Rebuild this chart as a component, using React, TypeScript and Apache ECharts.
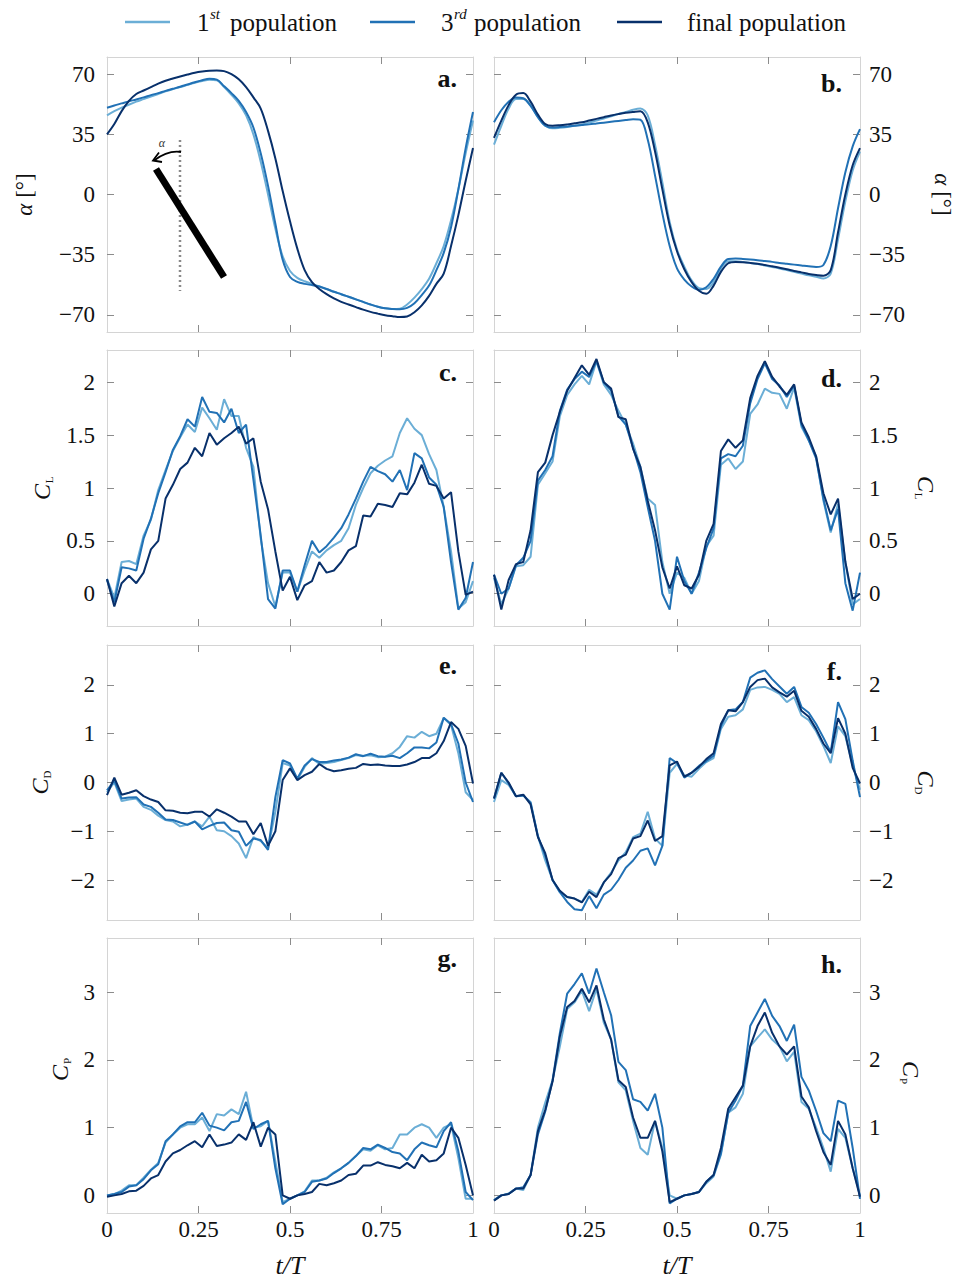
import React, { useEffect, useRef } from 'react';
import * as echarts from 'echarts';

// ---------- data ----------
const T = [0,0.02,0.04,0.06,0.08,0.1,0.12,0.14,0.16,0.18,0.2,0.22,0.24,0.26,0.28,0.3,0.32,0.34,0.36,0.38,0.4,0.42,0.44,0.46,0.48,0.5,0.52,0.54,0.56,0.58,0.6,0.62,0.64,0.66,0.68,0.7,0.72,0.74,0.76,0.78,0.8,0.82,0.84,0.86,0.88,0.9,0.92,0.94,0.96,0.98,1];

const seriesNames = ['1st population', '3rd population', 'final population'];

// panel a: alpha (left)
const aFirst = [46,48.5,50.5,52.3,54,55.5,57,58.5,60,61.3,62.5,63.8,65,66,66.8,66.5,62.5,58,53,46,35,19,0,-20,-36,-44.5,-48.5,-50.5,-52,-53.5,-55,-56.6,-58,-59.5,-61,-62.5,-64,-65.3,-66.2,-66.6,-66.4,-64,-60,-55,-49,-40,-30,-15,3,24,43];
const aThird = [50.5,51.8,53,54.2,55.3,56.5,57.8,59,60.3,61.5,62.7,64,65.3,66.5,67.3,66.8,63,59,54.5,48,39,24,5,-17,-38,-48,-50.8,-52,-52.7,-53.5,-55,-56.6,-58,-59.5,-61,-62.5,-64,-65.3,-66.2,-66.6,-66.8,-66,-63.3,-58.5,-53,-44,-34,-19,3,27,48];
const aFinal = [35,41,48.5,54.5,58.5,60.5,62.5,64.5,66.2,67.5,68.7,69.8,70.8,71.5,72,72.2,71.8,70,67,62.5,56.5,50,37,21,2,-15.6,-31.5,-44,-51,-55,-58,-60.5,-62.5,-64,-65.5,-67,-68.3,-69.3,-70.2,-70.8,-71.3,-71,-68.5,-64.5,-59,-52,-46,-30,-12,8,27];

// panel b: alpha (right)
const bFirst = [29,40,50,55.5,55.5,52,45,40,38.5,38.8,39.3,40,40.8,41.8,43,44.2,45.5,46.8,48,49.3,50,46,29,7,-16,-32,-42,-50,-54.5,-55,-51,-43,-38.8,-38.8,-39.2,-39.8,-40.5,-41.3,-42.2,-43,-44,-45,-46,-47,-47.8,-48.8,-46,-26,-4,14,25];
const bThird = [42,49,54,56.5,56,51.5,45,40,39,39.3,39.6,40,40.4,40.8,41.3,41.8,42.3,42.8,43.3,43.8,43.5,32,11,-11,-30,-43,-49.5,-53.5,-55.5,-54,-49,-42,-37.5,-37.3,-37.5,-37.8,-38.2,-38.7,-39.2,-39.8,-40.3,-40.8,-41.3,-41.8,-42.2,-41,-30,-8,13,28,38];
const bFinal = [33,43,52,58,59,54,46.5,41,40,40.3,40.8,41.4,42,43,44,45,46,46.8,47.5,48,48.4,42,25,3,-18,-33,-43.5,-51,-56,-57.8,-53,-45,-40,-39.2,-39.4,-39.8,-40.3,-41,-41.8,-42.6,-43.5,-44.5,-45.3,-46.2,-46.8,-47.2,-44,-22,0,17,27];

// panel c: CL (left)
const cFirst = [0.14,-0.04,0.3,0.31,0.28,0.55,0.7,0.98,1.17,1.35,1.48,1.6,1.53,1.76,1.66,1.55,1.84,1.68,1.68,1.38,1.2,0.52,0.1,-0.12,0.2,0.2,0.02,0.22,0.4,0.34,0.41,0.46,0.5,0.62,0.84,1.0,1.14,1.21,1.26,1.3,1.52,1.66,1.56,1.5,1.32,1.17,0.82,0.4,-0.14,-0.08,0.12];
const cThird = [0.13,-0.08,0.25,0.24,0.22,0.52,0.71,0.95,1.15,1.36,1.49,1.65,1.58,1.86,1.72,1.71,1.62,1.75,1.52,1.6,1.08,0.55,-0.05,-0.14,0.22,0.22,0.02,0.27,0.5,0.39,0.45,0.53,0.62,0.75,0.9,1.06,1.2,1.16,1.13,1.06,1.17,0.98,1.33,1.28,1.1,1.03,0.82,0.3,-0.15,-0.04,0.3];
const cFinal = [0.14,-0.12,0.1,0.17,0.1,0.2,0.42,0.5,0.9,1.03,1.18,1.24,1.38,1.3,1.52,1.41,1.47,1.52,1.58,1.42,1.47,1.06,0.8,0.4,0.03,0.16,-0.06,0.08,0.12,0.3,0.2,0.22,0.3,0.41,0.45,0.74,0.73,0.85,0.84,0.82,0.95,0.94,1.05,1.22,1.04,1.02,0.9,0.96,0.4,-0.01,0.02];

// panel d: CL (right)
const dFirst = [0.15,-0.1,0.05,0.26,0.27,0.35,1.03,1.14,1.25,1.68,1.88,1.98,2.06,1.98,2.2,1.98,1.88,1.73,1.6,1.42,1.2,0.9,0.84,0.3,0.0,0.2,0.15,0.0,0.12,0.45,0.55,1.22,1.28,1.18,1.25,1.7,1.79,1.94,1.9,1.89,1.75,1.95,1.58,1.45,1.3,0.88,0.58,0.85,0.3,-0.1,-0.05];
const dThird = [0.18,0.0,0.05,0.27,0.34,0.5,1.07,1.17,1.3,1.73,1.93,2.03,2.1,2.05,2.2,2.0,1.92,1.68,1.6,1.38,1.15,0.82,0.5,0.0,-0.15,0.35,0.12,0.0,0.2,0.43,0.62,1.28,1.32,1.3,1.4,1.8,2.03,2.18,2.03,1.97,1.86,1.97,1.6,1.45,1.28,0.9,0.6,0.8,0.1,-0.16,0.2];
const dFinal = [0.18,-0.15,0.13,0.28,0.3,0.6,1.15,1.24,1.5,1.72,1.92,2.04,2.16,2.07,2.22,2.0,1.94,1.67,1.65,1.37,1.2,0.88,0.6,0.25,0.05,0.26,0.08,0.05,0.18,0.5,0.66,1.35,1.46,1.38,1.45,1.85,2.06,2.2,2.05,1.96,1.88,1.98,1.62,1.48,1.3,0.95,0.75,0.9,0.3,-0.05,0.0];

// panel e: CD (left)
const eFirst = [-0.2,0.0,-0.38,-0.35,-0.33,-0.5,-0.56,-0.68,-0.77,-0.8,-0.9,-0.86,-0.8,-0.9,-0.7,-0.98,-1.0,-1.1,-1.25,-1.55,-1.12,-1.2,-1.35,-0.6,0.4,0.35,0.05,0.32,0.5,0.38,0.4,0.42,0.46,0.5,0.56,0.55,0.56,0.52,0.53,0.6,0.73,0.95,0.92,1.04,0.95,1.0,1.32,1.18,0.6,-0.2,-0.36];
const eThird = [-0.16,0.04,-0.33,-0.31,-0.3,-0.45,-0.5,-0.62,-0.76,-0.77,-0.82,-0.87,-0.8,-0.96,-0.89,-0.83,-0.82,-0.98,-1.01,-1.3,-1.15,-1.18,-1.38,-0.3,0.46,0.39,0.08,0.35,0.48,0.42,0.42,0.45,0.47,0.51,0.58,0.54,0.59,0.54,0.53,0.55,0.5,0.6,0.72,0.72,0.7,0.82,1.33,1.2,0.8,0.0,-0.4];
const eFinal = [-0.26,0.1,-0.25,-0.21,-0.16,-0.28,-0.35,-0.4,-0.57,-0.58,-0.62,-0.63,-0.6,-0.6,-0.7,-0.55,-0.62,-0.7,-0.8,-0.8,-1.06,-0.83,-1.3,-1.0,0.05,0.29,0.05,0.15,0.22,0.38,0.28,0.23,0.25,0.28,0.3,0.38,0.36,0.37,0.35,0.34,0.34,0.37,0.42,0.5,0.5,0.6,0.85,1.24,1.1,0.75,-0.02];

// panel f: CD (right)
const fFirst = [-0.4,0.05,-0.05,-0.28,-0.27,-0.4,-1.1,-1.6,-2.0,-2.25,-2.35,-2.38,-2.45,-2.2,-2.3,-2.05,-1.85,-1.6,-1.43,-1.12,-1.05,-0.6,-1.15,-1.3,0.2,0.38,0.15,0.12,0.28,0.42,0.5,1.1,1.35,1.38,1.5,1.9,1.95,1.96,1.9,1.82,1.65,1.75,1.38,1.28,1.05,0.75,0.4,1.15,0.95,0.35,-0.15];
const fThird = [-0.33,0.2,-0.02,-0.28,-0.26,-0.42,-1.1,-1.5,-2.0,-2.25,-2.45,-2.6,-2.62,-2.33,-2.58,-2.3,-2.2,-2.0,-1.75,-1.6,-1.4,-1.35,-1.7,-1.3,0.5,0.4,0.1,0.2,0.34,0.44,0.55,1.15,1.48,1.5,1.65,2.15,2.25,2.3,2.12,1.97,1.82,1.96,1.55,1.43,1.2,0.92,0.62,1.65,1.3,0.45,-0.3];
const fFinal = [-0.33,0.2,0.0,-0.28,-0.25,-0.45,-1.12,-1.45,-2.0,-2.22,-2.35,-2.38,-2.46,-2.24,-2.35,-2.05,-1.88,-1.55,-1.48,-1.15,-1.1,-0.78,-1.2,-1.1,0.35,0.43,0.12,0.2,0.32,0.48,0.6,1.2,1.48,1.46,1.65,1.96,2.1,2.13,1.95,1.85,1.76,1.88,1.47,1.35,1.1,0.8,0.6,1.32,1.0,0.3,-0.02];

// panel g: CP (left)
const gFirst = [0.0,0.02,0.07,0.15,0.15,0.26,0.38,0.48,0.78,0.9,1.0,1.05,1.05,1.15,0.95,1.2,1.18,1.27,1.2,1.53,1.0,1.02,1.1,0.5,-0.1,-0.05,0.0,0.06,0.22,0.22,0.26,0.34,0.4,0.48,0.58,0.68,0.66,0.74,0.68,0.7,0.9,0.9,1.0,1.05,1.0,0.85,1.0,1.05,0.55,-0.05,-0.05];
const gThird = [0.0,0.02,0.05,0.13,0.15,0.24,0.37,0.46,0.8,0.9,1.02,1.08,1.08,1.22,1.03,1.0,0.96,1.08,1.1,1.38,0.98,1.05,1.1,0.4,-0.13,-0.05,0.0,0.05,0.2,0.22,0.25,0.33,0.4,0.48,0.58,0.7,0.68,0.75,0.7,0.64,0.62,0.52,0.68,0.78,0.74,0.71,0.95,1.08,0.65,0.05,-0.07];
const gFinal = [-0.02,0.0,0.02,0.06,0.07,0.14,0.25,0.3,0.5,0.62,0.67,0.74,0.8,0.71,0.9,0.73,0.75,0.78,0.9,0.82,1.08,0.72,1.0,0.9,0.0,-0.05,0.0,0.02,0.05,0.17,0.15,0.18,0.22,0.3,0.32,0.44,0.44,0.49,0.45,0.43,0.4,0.48,0.4,0.6,0.5,0.52,0.62,1.0,0.85,0.45,0.0];

// panel h: CP (right)
const hFirst = [-0.07,0.0,0.03,0.1,0.08,0.3,1.0,1.37,1.7,2.2,2.75,2.85,3.02,2.72,3.05,2.55,2.3,1.67,1.55,1.1,0.7,0.6,1.1,0.7,0.0,-0.05,0.0,0.02,0.05,0.18,0.28,0.6,1.22,1.3,1.5,2.2,2.33,2.45,2.3,2.2,1.98,2.12,1.38,1.28,1.0,0.7,0.35,0.98,0.85,0.4,0.0];
const hThird = [-0.07,0.0,0.02,0.1,0.12,0.3,0.9,1.24,1.7,2.4,2.98,3.12,3.28,2.98,3.35,3.0,2.66,1.97,1.85,1.42,1.38,1.25,1.5,1.0,-0.12,-0.05,0.0,0.02,0.05,0.2,0.3,0.62,1.22,1.4,1.62,2.5,2.7,2.9,2.65,2.5,2.28,2.52,1.75,1.55,1.25,0.92,0.8,1.4,1.35,0.7,-0.05];
const hFinal = [-0.08,0.0,0.02,0.1,0.1,0.3,0.95,1.26,1.68,2.35,2.78,2.87,3.05,2.85,3.1,2.6,2.3,1.7,1.6,1.15,0.85,0.85,1.1,0.65,-0.1,-0.05,0.0,0.02,0.05,0.2,0.3,0.7,1.28,1.45,1.62,2.2,2.5,2.7,2.4,2.2,2.08,2.2,1.46,1.3,0.95,0.64,0.45,1.1,0.9,0.4,-0.02];

// tick values
const xTickLabels = [0, 0.25, 0.5, 0.75, 1];
const xTickMarks = [0.25, 0.5, 0.75];
const alphaTicks = [-70, -35, 0, 35, 70];
const clTicks = [0, 0.5, 1, 1.5, 2];
const cdTicks = [-2, -1, 0, 1, 2];
const cpTicks = [0, 1, 2, 3];

// ---------- layout / style ----------
const FONT = 'Liberation Serif';
const COLORS = ['#6baed6', '#2171b5', '#08306b'];
const FRAME = '#d4d4d4';
const TICK = '#8c8c8c';
const COL_X = [107, 494];
const PANEL_W = 366;
const ROWS = [
  { top: 57, h: 275 },
  { top: 350, h: 276 },
  { top: 645, h: 275 },
  { top: 938, h: 275 },
];

type Panel = {
  label: string; col: number; row: number; data: number[][];
  min: number; max: number; ticks: number[]; smooth: boolean;
  labelBase: number;
};

const panels: Panel[] = [
  { label: 'a.', col: 0, row: 0, data: [aFirst, aThird, aFinal], min: -80, max: 80, ticks: alphaTicks, smooth: true, labelBase: 87 },
  { label: 'b.', col: 1, row: 0, data: [bFirst, bThird, bFinal], min: -80, max: 80, ticks: alphaTicks, smooth: true, labelBase: 92 },
  { label: 'c.', col: 0, row: 1, data: [cFirst, cThird, cFinal], min: -0.305, max: 2.305, ticks: clTicks, smooth: false, labelBase: 381 },
  { label: 'd.', col: 1, row: 1, data: [dFirst, dThird, dFinal], min: -0.305, max: 2.305, ticks: clTicks, smooth: false, labelBase: 387 },
  { label: 'e.', col: 0, row: 2, data: [eFirst, eThird, eFinal], min: -2.82, max: 2.82, ticks: cdTicks, smooth: false, labelBase: 674 },
  { label: 'f.', col: 1, row: 2, data: [fFirst, fThird, fFinal], min: -2.82, max: 2.82, ticks: cdTicks, smooth: false, labelBase: 680 },
  { label: 'g.', col: 0, row: 3, data: [gFirst, gThird, gFinal], min: -0.26, max: 3.8, ticks: cpTicks, smooth: false, labelBase: 967 },
  { label: 'h.', col: 1, row: 3, data: [hFirst, hThird, hFinal], min: -0.26, max: 3.8, ticks: cpTicks, smooth: false, labelBase: 973 },
];

const fmtNum = (v: number) => (v < 0 ? '\u2212' + String(Math.abs(v)) : String(v));

function yTitle(x: number, y: number, rot: number, kind: string) {
  if (kind === 'alpha') {
    return {
      type: 'text', x, y, rotation: rot,
      style: {
        text: '{i|α} [°]', textAlign: 'center', textVerticalAlign: 'middle',
        fontFamily: FONT, fontSize: 23, fill: '#111',
        rich: { i: { fontStyle: 'italic', fontFamily: FONT, fontSize: 23 } },
      },
    };
  }
  return {
    type: 'group', x, y, rotation: rot,
    children: [
      { type: 'text', x: -4, y: 0, style: { text: 'C', fontStyle: 'italic', fontFamily: FONT, fontSize: 24, fill: '#111', textAlign: 'center', textVerticalAlign: 'middle' } },
      { type: 'text', x: 8, y: 7, style: { text: kind, fontFamily: FONT, fontSize: 11, fill: '#111', textAlign: 'center', textVerticalAlign: 'middle' } },
    ],
  };
}

function buildOption() {
  const grid: any[] = [];
  const xAxis: any[] = [];
  const yAxis: any[] = [];
  const series: any[] = [];
  const graphic: any[] = [];

  const tickBase = { show: true, inside: true, length: 7, lineStyle: { color: TICK, width: 1 } };
  const lineBase = { show: true, onZero: false, lineStyle: { color: FRAME, width: 1 } };
  const labelBase = { fontFamily: FONT, fontSize: 23, color: '#111' };

  panels.forEach((p, i) => {
    const r = ROWS[p.row];
    grid.push({ left: COL_X[p.col], top: r.top, width: PANEL_W, height: r.h, containLabel: false });
    const bottomRow = p.row === 3;
    xAxis.push({
      type: 'value', gridIndex: i, min: 0, max: 1, position: 'bottom',
      axisLine: lineBase, splitLine: { show: false },
      axisTick: { ...tickBase, customValues: xTickMarks },
      axisLabel: { ...labelBase, show: bottomRow, margin: 5, customValues: xTickLabels, formatter: (v: number) => String(v) },
    });
    xAxis.push({
      type: 'value', gridIndex: i, min: 0, max: 1, position: 'top',
      axisLine: lineBase, splitLine: { show: false },
      axisTick: { ...tickBase, customValues: xTickMarks },
      axisLabel: { show: false },
    });
    const leftLabels = p.col === 0;
    yAxis.push({
      type: 'value', gridIndex: i, min: p.min, max: p.max, position: 'left',
      axisLine: lineBase, splitLine: { show: false },
      axisTick: { ...tickBase, customValues: p.ticks },
      axisLabel: { ...labelBase, show: leftLabels, margin: 12, customValues: p.ticks, formatter: fmtNum },
    });
    yAxis.push({
      type: 'value', gridIndex: i, min: p.min, max: p.max, position: 'right',
      axisLine: lineBase, splitLine: { show: false },
      axisTick: { ...tickBase, customValues: p.ticks },
      axisLabel: { ...labelBase, show: !leftLabels, margin: 9, customValues: p.ticks, formatter: fmtNum },
    });
    p.data.forEach((vals, s) => {
      series.push({
        type: 'line', name: seriesNames[s],
        xAxisIndex: 2 * i, yAxisIndex: 2 * i + (leftLabels ? 0 : 1),
        data: T.map((t, k) => [t, vals[k]]),
        symbol: 'none', showSymbol: false,
        smooth: p.smooth ? 0.35 : false,
        lineStyle: { width: 2, color: COLORS[s] },
        itemStyle: { color: COLORS[s] },
        z: 2 + s,
      });
    });
    // panel label
    const rightEdge = COL_X[p.col] + PANEL_W - (p.col === 0 ? 16 : 18);
    graphic.push({
      type: 'text', x: rightEdge, y: p.labelBase - 9,
      style: { text: p.label, fontFamily: FONT, fontWeight: 'bold', fontSize: 26, fill: '#111', textAlign: 'right', textVerticalAlign: 'middle' },
      z: 20,
    });
  });

  // y-axis titles
  const midY = (row: number) => ROWS[row].top + ROWS[row].h / 2;
  graphic.push(yTitle(24, midY(0), Math.PI / 2, 'alpha'));
  graphic.push(yTitle(42, midY(1), Math.PI / 2, 'L'));
  graphic.push(yTitle(40, midY(2), Math.PI / 2, 'D'));
  graphic.push(yTitle(60, 1069, Math.PI / 2, 'P'));
  graphic.push(yTitle(942, midY(0), -Math.PI / 2, 'alpha'));
  graphic.push(yTitle(926, midY(1), -Math.PI / 2, 'L'));
  graphic.push(yTitle(926, midY(2), -Math.PI / 2, 'D'));
  graphic.push(yTitle(911, 1073, -Math.PI / 2, 'P'));

  // x-axis titles
  [0, 1].forEach((c) => {
    graphic.push({
      type: 'text', x: COL_X[c] + PANEL_W / 2, y: 1265,
      style: { text: 't/T', fontFamily: FONT, fontStyle: 'italic', fontSize: 26, fill: '#111', textAlign: 'center', textVerticalAlign: 'middle' },
    });
  });

  // legend (drawn)
  const legendItems = [
    { x1: 125, num: '1', sup: 'st', tx: 197 },
    { x1: 370, num: '3', sup: 'rd', tx: 441 },
  ];
  legendItems.forEach((it, s) => {
    graphic.push({ type: 'line', shape: { x1: it.x1, y1: 22, x2: it.x1 + 45, y2: 22 }, style: { stroke: COLORS[s], lineWidth: 2.5 } });
    graphic.push({ type: 'text', x: it.tx, y: 22, style: { text: it.num, fontFamily: FONT, fontSize: 25, fill: '#111', textAlign: 'left', textVerticalAlign: 'middle' } });
    graphic.push({ type: 'text', x: it.tx + 13, y: 14, style: { text: it.sup, fontFamily: FONT, fontStyle: 'italic', fontSize: 15, fill: '#111', textAlign: 'left', textVerticalAlign: 'middle' } });
    graphic.push({ type: 'text', x: it.tx + 33, y: 22, style: { text: 'population', fontFamily: FONT, fontSize: 25, fill: '#111', textAlign: 'left', textVerticalAlign: 'middle' } });
  });
  graphic.push({ type: 'line', shape: { x1: 617, y1: 22, x2: 662, y2: 22 }, style: { stroke: COLORS[2], lineWidth: 2.5 } });
  graphic.push({ type: 'text', x: 687, y: 22, style: { text: 'final population', fontFamily: FONT, fontSize: 25, fill: '#111', textAlign: 'left', textVerticalAlign: 'middle' } });

  // inset sketch in panel a
  graphic.push({ type: 'line', shape: { x1: 180, y1: 140, x2: 180, y2: 291 }, style: { stroke: '#8a8a8a', lineWidth: 2.5, lineDash: [2, 3] }, z: 10 });
  graphic.push({ type: 'line', shape: { x1: 156, y1: 169, x2: 224, y2: 277 }, style: { stroke: '#000', lineWidth: 7 }, z: 11 });
  graphic.push({ type: 'bezierCurve', shape: { x1: 181, y1: 152, x2: 154, y2: 160.5, cpx1: 168, cpy1: 150 }, style: { stroke: '#000', lineWidth: 1.8, fill: null }, z: 11 });
  graphic.push({ type: 'polyline', shape: { points: [[159, 152.5], [153, 160.5], [162, 162]] }, style: { stroke: '#000', lineWidth: 1.8, fill: null }, z: 11 });
  graphic.push({ type: 'text', x: 162, y: 143, style: { text: 'α', fontFamily: FONT, fontStyle: 'italic', fontSize: 12, fill: '#333', textAlign: 'center', textVerticalAlign: 'middle' }, z: 11 });

  return { animation: false, backgroundColor: '#ffffff', grid, xAxis, yAxis, series, graphic };
}

export default function App() {
  const ref = useRef<HTMLDivElement>(null);
  useEffect(() => {
    if (!ref.current) return;
    const chart = echarts.init(ref.current, null, { renderer: 'svg' });
    chart.setOption(buildOption() as any);
    return () => chart.dispose();
  }, []);
  return <div ref={ref} style={{ position: 'absolute', left: 0, top: 0, width: 957, height: 1280, background: '#fff' }} />;
}
